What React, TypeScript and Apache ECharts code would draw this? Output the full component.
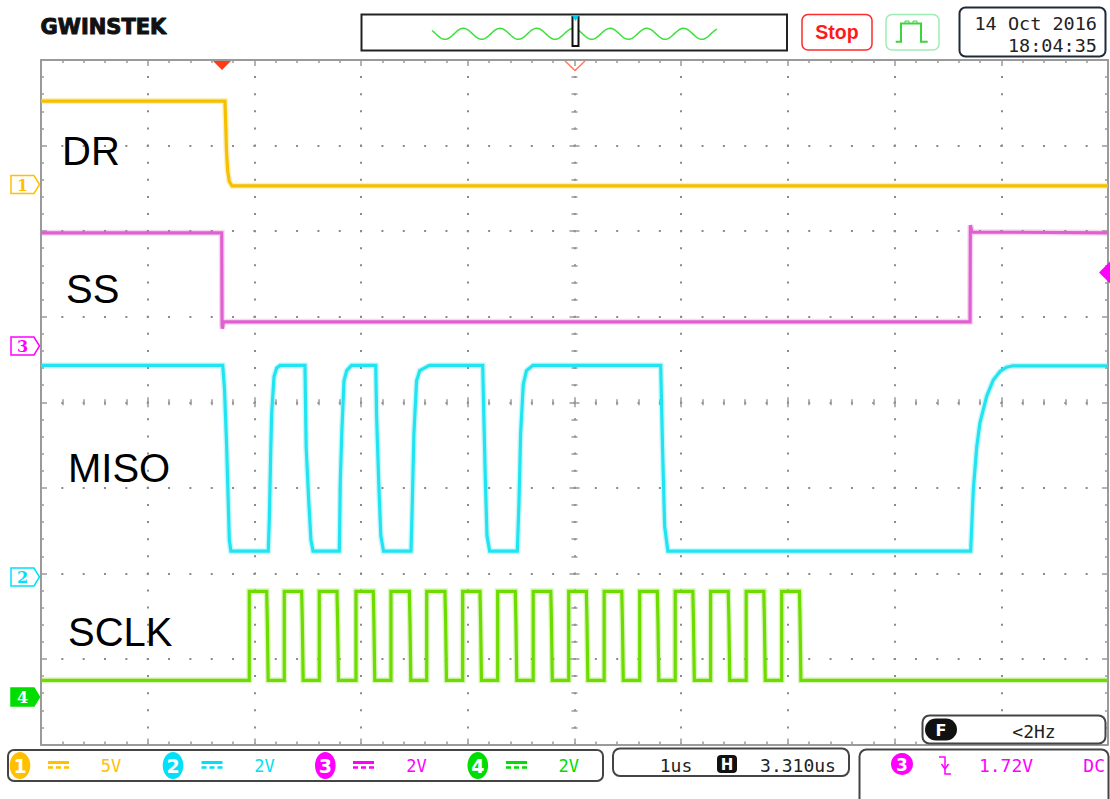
import React, { useEffect, useRef } from "react";
import * as echarts from "echarts";

// Time axis: microseconds relative to screen centre (1 us/div, 10 div)
// Vertical axis: divisions relative to screen centre (8 div)

// DR (channel 1, yellow)
const DR_T = [-5, -3.276, -3.27, -3.262, -3.25, -3.235, -3.21, 5];
const DR_V = [3.52, 3.52, 3.3, 2.95, 2.7, 2.58, 2.53, 2.53];

// SS (channel 3, magenta)
const SS_T = [-5, -3.306, -3.303, -3.3, -3.29, 3.707, 3.71, 3.725, 5];
const SS_V = [1.98, 1.98, 0.9, 0.86, 0.94, 0.94, 2.07, 1.99, 1.98];

// MISO (channel 2, cyan)
const MISO_T = [
  -5, -3.297, -3.28, -3.26, -3.245, -3.235, -3.22,
  -2.87, -2.86, -2.847, -2.838, -2.816, -2.791, -2.76,
  -2.526, -2.515, -2.49, -2.47, -2.45,
  -2.204, -2.195, -2.18, -2.16, -2.135, -2.09,
  -1.863, -1.855, -1.835, -1.815, -1.79,
  -1.532, -1.52, -1.505, -1.48, -1.45, -1.36,
  -0.86, -0.85, -0.835, -0.82, -0.795,
  -0.536, -0.52, -0.505, -0.48, -0.45, -0.39,
  0.808, 0.825, 0.845, 0.875,
  3.713, 3.738, 3.77, 3.8, 3.863, 3.925, 3.988, 4.05, 4.11, 5,
];
const MISO_V = [
  0.43, 0.43, 0.15, -0.52, -1.17, -1.61, -1.74,
  -1.74, -1.37, -0.59, -0.13, 0.3, 0.4, 0.43,
  0.43, -0.52, -1.17, -1.61, -1.74,
  -1.74, -0.93, -0.33, 0.25, 0.37, 0.43,
  0.43, -0.15, -0.93, -1.56, -1.74,
  -1.74, -1.17, -0.37, 0.25, 0.37, 0.43,
  0.43, -0.15, -0.93, -1.56, -1.74,
  -1.74, -1.17, -0.37, 0.21, 0.37, 0.43,
  0.43, -0.52, -1.45, -1.74,
  -1.74, -1.02, -0.52, -0.24, 0.07, 0.26, 0.36, 0.41, 0.426, 0.426,
];

// SCLK (channel 4, green): 16 clock pulses
const SCLK_RISE = [
  -3.048, -2.72, -2.392, -2.048, -1.72, -1.385, -1.048, -0.72,
  -0.387, -0.054, 0.278, 0.611, 0.944, 1.276, 1.609, 1.942,
];
const SCLK_FALL = [
  -2.885, -2.557, -2.226, -1.886, -1.548, -1.214, -0.886, -0.555,
  -0.222, 0.111, 0.443, 0.776, 1.109, 1.441, 1.774, 2.108,
];
const SCLK_HIGH = -2.21;
const SCLK_LOW = -3.25;

// Channel labels
const LABELS = ["DR", "SS", "MISO", "SCLK"];
const FOOT_SCALES = ["5V", "2V", "2V", "2V"];

const C1 = "#F5C000";
const C2 = "#22E4F0";
const C3 = "#E060D0";
const C4 = "#6EDC00";

const MONO = '"DejaVu Sans Mono", monospace';
const SANS = '"Liberation Sans", Arial, sans-serif';

function pairs(t: number[], v: number[]) {
  return t.map((x, i) => [x, v[i]]);
}

function sclkData() {
  const d: number[][] = [[-5, SCLK_LOW]];
  SCLK_RISE.forEach((r, i) => {
    const f = SCLK_FALL[i];
    d.push([r, SCLK_LOW], [r, SCLK_HIGH], [f, SCLK_HIGH], [f + 0.006, SCLK_HIGH - 0.35], [f + 0.014, SCLK_LOW]);
  });
  d.push([5, SCLK_LOW]);
  return d;
}

function trace(name: string, data: number[][], color: string) {
  return [
    {
      type: "line",
      name: name + "-halo",
      data,
      showSymbol: false,
      symbol: "none",
      silent: true,
      z: 4,
      lineStyle: { color, width: 6, opacity: 0.25, join: "miter" },
    },
    {
      type: "line",
      name,
      data,
      showSymbol: false,
      symbol: "none",
      silent: true,
      z: 5,
      lineStyle: { color, width: 3.2, join: "miter" },
    },
  ];
}

const GRAY = "#9a9a9a";
const TOT_W = 1067;
const TOT_H = 684.5;

function xAxisBase(extra: any) {
  return Object.assign(
    {
      type: "value",
      min: -5,
      max: 5,
      interval: 1,
      gridIndex: 0,
      axisLabel: { show: false },
      axisLine: { show: true, onZero: false, lineStyle: { color: GRAY, width: 2 } },
      axisTick: { show: true, inside: true, length: 6, lineStyle: { color: GRAY, width: 1.5 } },
      minorTick: { show: true, splitNumber: 5, length: 3, lineStyle: { color: GRAY, width: 1.5 } },
      splitLine: { show: false },
    },
    extra
  );
}
function yAxisBase(extra: any) {
  return Object.assign(
    {
      type: "value",
      min: -4,
      max: 4,
      interval: 1,
      gridIndex: 0,
      axisLabel: { show: false },
      axisLine: { show: true, onZero: false, lineStyle: { color: GRAY, width: 2 } },
      axisTick: { show: true, inside: true, length: 6, lineStyle: { color: GRAY, width: 1.5 } },
      minorTick: { show: true, splitNumber: 5, length: 3, lineStyle: { color: GRAY, width: 1.5 } },
      splitLine: { show: false },
    },
    extra
  );
}

function chMarker(cy: number, color: string, label: string, filled: boolean) {
  return [
    {
      type: "polygon",
      shape: { points: [[11, cy - 9], [34, cy - 9], [39.5, cy], [34, cy + 9], [11, cy + 9]] },
      style: { fill: filled ? color : "#fff", stroke: color, lineWidth: 1.5 },
      z: 10,
    },
    {
      type: "text",
      x: 22.5,
      y: cy + 0.5,
      style: {
        text: label,
        fill: filled ? "#fff" : color,
        font: 'bold 16px "DejaVu Serif", serif',
        textAlign: "center",
        textVerticalAlign: "middle",
      },
      z: 11,
    },
  ];
}

function footChannel(cx: number, color: string, num: string, symX: number, textX: number, scale: string) {
  return [
    { type: "ellipse", shape: { cx, cy: 765.5, rx: 10.3, ry: 13.5 }, style: { fill: color }, z: 10 },
    {
      type: "text",
      x: cx,
      y: 766,
      style: { text: num, fill: "#fff", font: 'bold 19px "DejaVu Sans", sans-serif', textAlign: "center", textVerticalAlign: "middle" },
      z: 11,
    },
    { type: "rect", shape: { x: symX, y: 761, width: 21, height: 3 }, style: { fill: color }, z: 10 },
    {
      type: "line",
      shape: { x1: symX, y1: 767.5, x2: symX + 21, y2: 767.5 },
      style: { stroke: color, lineWidth: 2.5, lineDash: [5, 3] },
      z: 10,
    },
    {
      type: "text",
      x: textX,
      y: 766,
      style: { text: scale, fill: color, font: "17px " + MONO, textAlign: "center", textVerticalAlign: "middle" },
      z: 10,
    },
  ];
}

export default function App() {
  const ref = useRef<HTMLDivElement>(null);
  useEffect(() => {
    const chart = echarts.init(ref.current!, null, { renderer: "svg" });

    const wavePts: number[][] = [];
    for (let x = 432; x <= 717; x += 1) {
      wavePts.push([x, 33.8 - 5.5 * Math.cos((2 * Math.PI * (x - 463.3)) / 36.7)]);
    }

    const labelStyle = (text: string) => ({
      text,
      fill: "#000",
      font: "40px " + SANS,
      textAlign: "left",
      textVerticalAlign: "middle",
    });

    const graphics: any[] = [
      // Header
      {
        type: "text",
        x: 40.5,
        y: 27,
        style: {
          text: "GWINSTEK",
          fill: "#111",
          stroke: "#111",
          lineWidth: 1,
          font: 'bold 21px "DejaVu Sans", sans-serif',
          textVerticalAlign: "middle",
        },
      },
      { type: "rect", shape: { x: 361.5, y: 14.5, width: 425.5, height: 36 }, style: { fill: "#fff", stroke: "#222", lineWidth: 2 } },
      { type: "polyline", shape: { points: wavePts }, style: { stroke: "#3DE03D", lineWidth: 1.5, fill: null }, z: 2 },
      { type: "rect", shape: { x: 572.5, y: 17, width: 6, height: 29 }, style: { fill: "#fff", stroke: "#111", lineWidth: 2 }, z: 3 },
      { type: "polygon", shape: { points: [[571.5, 15], [579.5, 15], [575.5, 21]] }, style: { fill: "#00D0EE" }, z: 4 },
      { type: "rect", shape: { x: 802, y: 14.5, width: 70, height: 35.5, r: 6 }, style: { fill: "#fff", stroke: "#FF2A2A", lineWidth: 1.5 } },
      {
        type: "text",
        x: 837,
        y: 32,
        style: { text: "Stop", fill: "#FF1A1A", font: "bold 19.5px " + SANS, textAlign: "center", textVerticalAlign: "middle" },
      },
      { type: "rect", shape: { x: 886, y: 14.5, width: 53, height: 35.5, r: 6 }, style: { fill: "#fff", stroke: "#9EEDB5", lineWidth: 1.5 } },
      {
        type: "polyline",
        shape: { points: [[895.7, 41.7], [901, 41.7], [901, 23.5], [921, 23.5], [921, 41.7], [927.7, 41.7]] },
        style: { stroke: "#3CD43C", lineWidth: 2, fill: null },
      },
      {
        type: "polyline",
        shape: { points: [[905, 23.5], [905, 21], [909, 21], [909, 23.5], [913, 23.5], [913, 21], [917, 21], [917, 23.5]] },
        style: { stroke: "#3CD43C", lineWidth: 1, fill: null },
      },
      { type: "rect", shape: { x: 959.5, y: 7.5, width: 146, height: 49, r: 6 }, style: { fill: "#fff", stroke: "#1f2a38", lineWidth: 2 } },
      {
        type: "text",
        x: 1097,
        y: 23.5,
        style: { text: "14 Oct 2016", fill: "#222", font: "18.5px " + MONO, textAlign: "right", textVerticalAlign: "middle" },
      },
      {
        type: "text",
        x: 1097,
        y: 45.5,
        style: { text: "18:04:35", fill: "#222", font: "18.5px " + MONO, textAlign: "right", textVerticalAlign: "middle" },
      },
      // Trigger markers
      { type: "polygon", shape: { points: [[213, 61], [231, 61], [222, 70]] }, style: { fill: "#FF3B1A" }, z: 20 },
      { type: "polyline", shape: { points: [[565, 61], [575, 70.5], [585, 61]] }, style: { stroke: "#FF7A5A", lineWidth: 1.5, fill: null }, z: 20 },
      { type: "polygon", shape: { points: [[1099, 272.5], [1110, 261.5], [1121, 272.5], [1110, 283.5]] }, style: { fill: "#FF00FF" }, z: 20 },
      // Channel labels
      { type: "text", x: 62, y: 150.5, style: labelStyle(LABELS[0]), z: 12 },
      { type: "text", x: 66, y: 288.5, style: labelStyle(LABELS[1]), z: 12 },
      { type: "text", x: 68, y: 468, style: labelStyle(LABELS[2]), z: 12 },
      { type: "text", x: 68, y: 631.5, style: labelStyle(LABELS[3]), z: 12 },
      // Channel ground markers
      ...chMarker(184.5, "#FFC000", "1", false),
      ...chMarker(346, "#FF00FF", "3", false),
      ...chMarker(577, "#00E0F8", "2", false),
      ...chMarker(697, "#00DD00", "4", true),
      // Footer: channel box
      { type: "rect", shape: { x: 8, y: 750, width: 595, height: 31, r: 6 }, style: { fill: "#fff", stroke: "#444", lineWidth: 2 } },
      ...footChannel(20, "#FFC000", "1", 48, 111, FOOT_SCALES[0]),
      ...footChannel(173, "#00E0F8", "2", 201.5, 264.5, FOOT_SCALES[1]),
      ...footChannel(325.3, "#FF00FF", "3", 353, 416.6, FOOT_SCALES[2]),
      ...footChannel(477.8, "#00DD00", "4", 506, 568.7, FOOT_SCALES[3]),
      // Timebase box
      { type: "rect", shape: { x: 613, y: 748.5, width: 236, height: 27.5, r: 7 }, style: { fill: "#fff", stroke: "#444", lineWidth: 2 } },
      {
        type: "text",
        x: 676,
        y: 765.5,
        style: { text: "1us", fill: "#222", font: "18px " + MONO, textAlign: "center", textVerticalAlign: "middle" },
      },
      { type: "rect", shape: { x: 717, y: 755, width: 20, height: 18, r: 4 }, style: { fill: "#111" } },
      {
        type: "text",
        x: 727,
        y: 764.5,
        style: { text: "H", fill: "#fff", font: 'bold 15px "DejaVu Sans", sans-serif', textAlign: "center", textVerticalAlign: "middle" },
      },
      {
        type: "text",
        x: 798,
        y: 765.5,
        style: { text: "3.310us", fill: "#222", font: "18px " + MONO, textAlign: "center", textVerticalAlign: "middle" },
      },
      // Trigger box
      { type: "rect", shape: { x: 859.5, y: 749.5, width: 249, height: 70, r: 7 }, style: { fill: "#fff", stroke: "#444", lineWidth: 2 } },
      { type: "circle", shape: { cx: 902, cy: 764, r: 11 }, style: { fill: "#FF00FF" } },
      {
        type: "text",
        x: 902,
        y: 764.5,
        style: { text: "3", fill: "#fff", font: 'bold 17px "DejaVu Sans", sans-serif', textAlign: "center", textVerticalAlign: "middle" },
      },
      {
        type: "polyline",
        shape: { points: [[939, 757], [945, 757], [945, 774], [951, 774]] },
        style: { stroke: "#FF00FF", lineWidth: 1.5, fill: null },
      },
      {
        type: "polyline",
        shape: { points: [[941.5, 764], [945, 769], [948.5, 764]] },
        style: { stroke: "#FF00FF", lineWidth: 1.5, fill: null },
      },
      {
        type: "text",
        x: 1006,
        y: 765.5,
        style: { text: "1.72V", fill: "#FF00FF", font: "18px " + MONO, textAlign: "center", textVerticalAlign: "middle" },
      },
      {
        type: "text",
        x: 1105,
        y: 765.5,
        style: { text: "DC", fill: "#FF00FF", font: "18px " + MONO, textAlign: "right", textVerticalAlign: "middle" },
      },
      // Frequency box
      { type: "rect", shape: { x: 922.5, y: 715.5, width: 183, height: 28, r: 7 }, style: { fill: "#fff", stroke: "#444", lineWidth: 2 }, z: 15 },
      { type: "rect", shape: { x: 925, y: 718.5, width: 32, height: 22, r: 11 }, style: { fill: "#111" }, z: 16 },
      {
        type: "text",
        x: 941,
        y: 730,
        style: { text: "F", fill: "#fff", font: 'bold 16px "DejaVu Sans", sans-serif', textAlign: "center", textVerticalAlign: "middle" },
        z: 17,
      },
      {
        type: "text",
        x: 1034,
        y: 731.5,
        style: { text: "<2Hz", fill: "#222", font: "18px " + MONO, textAlign: "center", textVerticalAlign: "middle" },
        z: 17,
      },
    ];

    const centerTick = (inside: boolean) => ({ show: true, inside, length: 5, lineStyle: { color: GRAY, width: 1.5 } });

    const option: any = {
      animation: false,
      backgroundColor: "#fff",
      grid: { left: 41, top: 60, width: TOT_W, height: TOT_H, containLabel: false },
      xAxis: [
        xAxisBase({
          position: "bottom",
          splitLine: {
            show: true,
            lineStyle: { color: "#8a8a8a", width: 2, type: [2, TOT_H / 40 - 2], dashOffset: 1 },
          },
        }),
        xAxisBase({ position: "top" }),
        xAxisBase({ position: "bottom", offset: -TOT_H / 2, axisLine: { show: false, onZero: false }, axisTick: centerTick(true) }),
        xAxisBase({ position: "bottom", offset: -TOT_H / 2, axisLine: { show: false, onZero: false }, axisTick: centerTick(false) }),
      ],
      yAxis: [
        yAxisBase({
          position: "left",
          splitLine: {
            show: true,
            lineStyle: { color: "#8a8a8a", width: 2, type: [2, TOT_W / 50 - 2], dashOffset: 1 },
          },
        }),
        yAxisBase({ position: "right" }),
        yAxisBase({ position: "left", offset: -TOT_W / 2, axisLine: { show: false, onZero: false }, axisTick: centerTick(true) }),
        yAxisBase({ position: "left", offset: -TOT_W / 2, axisLine: { show: false, onZero: false }, axisTick: centerTick(false) }),
      ],
      series: [
        ...trace("DR", pairs(DR_T, DR_V), C1),
        ...trace("SS", pairs(SS_T, SS_V), C3),
        ...trace("MISO", pairs(MISO_T, MISO_V), C2),
        ...trace("SCLK", sclkData(), C4),
      ],
      graphic: graphics,
    };
    chart.setOption(option);
    return () => chart.dispose();
  }, []);
  return (
    <div
      ref={ref}
      style={{ position: "fixed", left: 0, top: 0, width: 1110, height: 799, background: "#fff" }}
    />
  );
}
